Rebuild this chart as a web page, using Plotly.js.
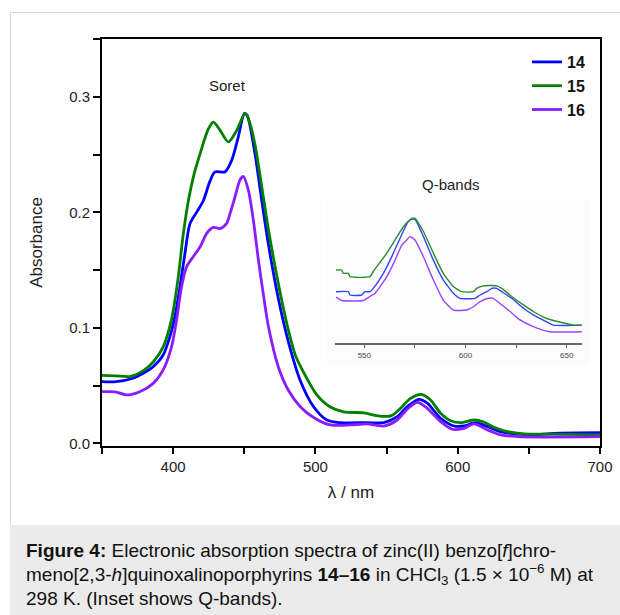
<!DOCTYPE html>
<html>
<head>
<meta charset="utf-8">
<script src="https://cdn.plot.ly/plotly-3.0.1.min.js"></script>
<style>
html,body{margin:0;padding:0;background:#fff;}
#chart{width:620px;height:615px;}
</style>
</head>
<body>
<div id="chart"></div>
<script>
// ---- Data ----
var seriesNames = ["14", "15", "16"];

// Main spectra: wavelength (nm) and absorbance
var wl14  = [350,360,371.8,378.9,386,393,397.7,401.2,404.8,408.3,411.8,416.5,421.2,425.9,429.4,436.5,441.2,445.8,450.1,452,457.6,462.3,467,474,481,489.2,498.7,508.1,517.5,536.3,548,557.5,564.5,572.7,578.6,588,597.4,604.4,612.7,620.9,630.3,642,653.7,667.8,700];
var abs14 = [0.0535,0.0535,0.0564,0.0607,0.0664,0.0766,0.0924,0.1097,0.1356,0.1645,0.19,0.2,0.21,0.227,0.235,0.2351,0.2452,0.2654,0.2856,0.284,0.25,0.21,0.172,0.125,0.088,0.055,0.0318,0.0203,0.018,0.018,0.018,0.0232,0.0318,0.0382,0.0348,0.0218,0.0151,0.0151,0.018,0.0145,0.0102,0.008,0.0074,0.0088,0.0093];

var wl15  = [350,360,370,379,386,393,399,403.6,407,411,414.5,419,424.7,428.2,433,438.8,444.7,450.6,454,457.6,462.3,467,474,481,486,491.5,501,510.5,519.8,534,543.4,553,559.8,566.8,574.4,580.9,588,595,602,611.5,617.4,625.5,635,646.7,665,700];
var abs15 = [0.059,0.0585,0.058,0.063,0.0705,0.0835,0.108,0.144,0.18,0.212,0.232,0.251,0.272,0.278,0.271,0.261,0.271,0.2856,0.277,0.258,0.222,0.185,0.138,0.098,0.076,0.062,0.042,0.0315,0.0273,0.0265,0.024,0.0238,0.0304,0.039,0.0425,0.0376,0.0261,0.0197,0.018,0.0203,0.019,0.014,0.0102,0.0082,0.008,0.0074];

var wl16  = [350,360,367.2,376.6,386,393,398.9,402.4,405.9,409.5,414.1,418.9,423.6,428.2,432.9,437.6,440,443.5,447,449.4,452.9,456.4,460,464,467,474,481,489.2,498.7,510.5,524.6,536.3,548,557.5,564.5,571.6,578.6,588,596.2,604.4,611.5,620.9,630.3,642,700];
var abs16 = [0.0448,0.0445,0.042,0.0448,0.052,0.0636,0.0838,0.1068,0.1356,0.153,0.1616,0.170,0.1818,0.187,0.186,0.1905,0.199,0.2135,0.228,0.231,0.219,0.193,0.158,0.124,0.101,0.066,0.046,0.032,0.0225,0.016,0.016,0.0169,0.0151,0.0203,0.0296,0.0356,0.0304,0.0189,0.0123,0.0131,0.0169,0.0117,0.0074,0.0059,0.0059];

// Inset (Q-bands) spectra
var qwl14  = [536.0,542.1,542.9,548.7,550.3,552.8,554.4,559.4,563.5,567.6,571.7,573.4,575.0,579.2,584.1,589.0,594.0,597.3,604.7,607.2,610.5,612.9,615.4,617.9,622.8,628.6,633.5,640.1,643.4,657.4];
var qabs14 = [0.0220,0.0220,0.0211,0.0211,0.0220,0.0220,0.0229,0.0270,0.0315,0.0365,0.0411,0.0417,0.0417,0.0370,0.0306,0.0252,0.0216,0.0202,0.0202,0.0211,0.0220,0.0229,0.0229,0.0220,0.0202,0.0175,0.0157,0.0138,0.0129,0.0129];

var qwl15  = [536.0,538.8,539.6,542.1,542.9,552.8,554.4,561.1,565.2,569.3,573.4,575.0,579.2,584.1,589.0,594.0,598.1,603.9,605.5,608.8,615.4,617.9,622.8,628.6,633.5,640.1,645.9,653.3,657.4];
var qabs15 = [0.0279,0.0279,0.0270,0.0270,0.0261,0.0261,0.0275,0.0325,0.0361,0.0397,0.0420,0.0420,0.0384,0.0325,0.0270,0.0234,0.0220,0.0220,0.0229,0.0236,0.0236,0.0229,0.0207,0.0184,0.0166,0.0147,0.0138,0.0129,0.0129];

var qwl16  = [536.0,538.8,549.5,552.8,555.3,561.1,565.2,568.5,570.9,572.6,575.0,579.2,584.1,589.0,594.0,600.6,603.9,607.2,611.3,613.7,617.0,622.0,626.9,633.5,641.7,657.4];
var qabs16 = [0.0205,0.0196,0.0196,0.0207,0.0216,0.0261,0.0306,0.0347,0.0361,0.0370,0.0361,0.0315,0.0252,0.0197,0.0170,0.0170,0.0179,0.0193,0.0202,0.0202,0.0188,0.0166,0.0143,0.0125,0.0111,0.0111];

var mainColors  = ["#0000ff", "#007f00", "#8b1cff"];
var insetColors = ["#3344ff", "#2a8c2a", "#9a44ff"];

// ---- Traces ----
var FONT = "'Liberation Sans', Arial, Helvetica, sans-serif";
var mainX = [wl14, wl15, wl16], mainY = [abs14, abs15, abs16];
var qX = [qwl14, qwl15, qwl16], qY = [qabs14, qabs15, qabs16];
var traces = [];
for (var i = 0; i < 3; i++) {
  traces.push({
    x: mainX[i], y: mainY[i], type: "scatter", mode: "lines",
    name: seriesNames[i], xaxis: "x", yaxis: "y",
    line: {color: mainColors[i], width: 2.8, shape: "spline", smoothing: 0.8},
    showlegend: true
  });
}
for (var j = 0; j < 3; j++) {
  traces.push({
    x: qX[j], y: qY[j], type: "scatter", mode: "lines",
    name: seriesNames[j], xaxis: "x2", yaxis: "y2",
    line: {color: insetColors[j], width: 1.4, shape: "spline", smoothing: 0.5},
    showlegend: false, hoverinfo: "skip"
  });
}

var W = 620, H = 615;
function px(x) { return x / W; }
function py(y) { return (H - y) / H; }

var layout = {
  width: W, height: H, autosize: false,
  margin: {l: 0, r: 0, t: 0, b: 0},
  paper_bgcolor: "#ffffff", plot_bgcolor: "rgba(0,0,0,0)",
  font: {family: FONT, color: "#222", size: 14},
  showlegend: true,
  legend: {
    x: px(527), y: py(45), xanchor: "left", yanchor: "top",
    bgcolor: "rgba(0,0,0,0)", borderwidth: 0,
    font: {family: FONT, size: 16, color: "#111", weight: "bold"},
    tracegroupgap: 0
  },
  xaxis: {
    domain: [px(102), px(600)], range: [350, 700],
    showline: true, linecolor: "#000", linewidth: 2, mirror: true,
    ticks: "outside", ticklen: 6, tickwidth: 2, tickcolor: "#000",
    tick0: 400, dtick: 100,
    minor: {ticks: "outside", ticklen: 6, tickwidth: 2, tickcolor: "#000", dtick: 50, tick0: 350},
    tickfont: {size: 15, color: "#222"},
    showgrid: false, zeroline: false,
    title: {text: "λ / nm", font: {size: 17, color: "#222"}, standoff: 12},
    anchor: "y"
  },
  yaxis: {
    domain: [py(446), py(39)], range: [-0.0022, 0.35],
    showline: true, linecolor: "#000", linewidth: 2, mirror: true,
    ticks: "outside", ticklen: 7, tickwidth: 2, tickcolor: "#000",
    tick0: 0, dtick: 0.1, tickformat: ".1f",
    minor: {ticks: "outside", ticklen: 7, tickwidth: 2, tickcolor: "#000", dtick: 0.05, tick0: 0},
    tickfont: {size: 15, color: "#222"},
    showgrid: false, zeroline: false,
    title: {text: "Absorbance", font: {size: 17, color: "#222"}, standoff: 22},
    anchor: "x"
  },
  xaxis2: {
    domain: [px(335), px(582.3)], range: [535.5, 657.7],
    showline: true, linecolor: "#666", linewidth: 2,
    ticks: "outside", ticklen: 3, tickwidth: 1, tickcolor: "#666",
    tick0: 550, dtick: 50,
    minor: {ticks: "outside", ticklen: 3, tickwidth: 1, tickcolor: "#666", dtick: 25},
    tickfont: {size: 8, color: "#444"},
    showgrid: false, zeroline: false, anchor: "y2"
  },
  yaxis2: {
    domain: [py(343.3), py(205)], range: [0.00794, 0.04562],
    visible: false, showgrid: false, zeroline: false, anchor: "x2"
  },
  shapes: [
    // inset background (very faint)
    {type: "rect", xref: "paper", yref: "paper", x0: px(327), x1: px(590), y0: py(365), y1: py(200),
     fillcolor: "#fcfcfc", line: {width: 0}, layer: "below"},
    // caption background
    {type: "rect", xref: "paper", yref: "paper", x0: px(10), x1: 1, y0: 0, y1: py(525),
     fillcolor: "#ebebeb", line: {width: 0}, layer: "below"},
    // page frame lines
    {type: "line", xref: "paper", yref: "paper", x0: px(10.5), x1: px(10.5), y0: py(525), y1: py(12),
     line: {color: "#d8d8d8", width: 1}},
    {type: "line", xref: "paper", yref: "paper", x0: px(10.5), x1: 1, y0: py(12.5), y1: py(12.5),
     line: {color: "#d8d8d8", width: 1}}
  ],
  annotations: [
    {text: "Soret", xref: "x", yref: "y", x: 438, y: 0.31, showarrow: false,
     font: {size: 15, color: "#222"}},
    {text: "Q-bands", xref: "x", yref: "y", x: 595, y: 0.224, showarrow: false,
     font: {size: 15, color: "#222"}},
    {text: "<b>Figure 4:</b> Electronic absorption spectra of zinc(II) benzo[<i>f</i>]chro-",
     xref: "paper", yref: "paper", x: px(24), y: py(550), xanchor: "left", yanchor: "middle",
     showarrow: false, font: {size: 19, color: "#111"}},
    {text: "meno[2,3-<i>h</i>]quinoxalinoporphyrins <b>14–16</b> in CHCl<sub>3</sub> (1.5 × 10<sup>−6</sup> M) at",
     xref: "paper", yref: "paper", x: px(24), y: py(574), xanchor: "left", yanchor: "middle",
     showarrow: false, font: {size: 19, color: "#111"}},
    {text: "298 K. (Inset shows Q-bands).",
     xref: "paper", yref: "paper", x: px(24), y: py(598), xanchor: "left", yanchor: "middle",
     showarrow: false, font: {size: 19, color: "#111"}}
  ]
};

Plotly.newPlot("chart", traces, layout, {displayModeBar: false, staticPlot: true});
</script>
</body>
</html>
